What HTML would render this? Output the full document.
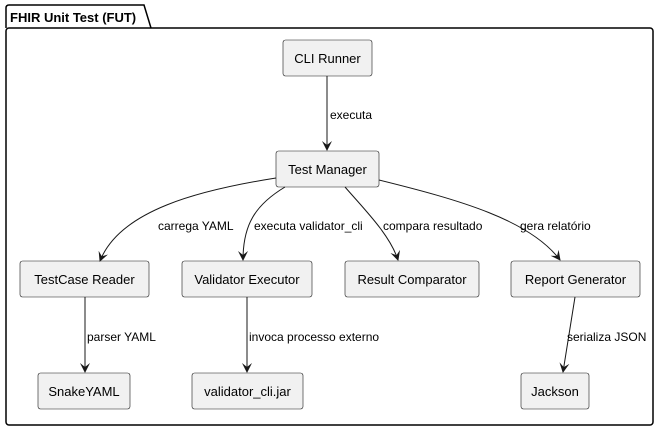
<!DOCTYPE html>
<html><head><meta charset="utf-8"><style>
body{margin:0;background:#fff;width:660px;height:432px;overflow:hidden}
text{font-family:"Liberation Sans",sans-serif;font-size:12px;fill:#000}
.b{fill:#f1f1f1;stroke:#181818;stroke-width:0.6}
.n{font-size:13px}
.e{fill:none;stroke:#181818;stroke-width:1}
</style></head><body>
<svg width="660" height="432" viewBox="0 0 660 432">
<defs><marker id="a" viewBox="0 0 10 10" refX="9" refY="5" markerWidth="10" markerHeight="10" orient="auto" markerUnits="userSpaceOnUse"><path d="M0,0 L10,5 L0,10 L4,5 Z" fill="#181818"/></marker></defs>
<path d="M6,28 L6,8 Q6,5 9,5 L144,5 L151,28" fill="none" stroke="#000" stroke-width="1.5"/>
<rect x="6" y="28" width="647" height="397" rx="3" fill="none" stroke="#000" stroke-width="1.5"/>
<text x="10" y="22" style="font-weight:bold;font-size:13px">FHIR Unit Test (FUT)</text>

<rect class="b" x="283" y="40" width="89" height="36" rx="2.5"/><text class="n" x="327.5" y="63" text-anchor="middle">CLI Runner</text>
<rect class="b" x="276" y="151" width="103" height="36" rx="2.5"/><text class="n" x="327.5" y="174" text-anchor="middle">Test Manager</text>
<rect class="b" x="20" y="261" width="129" height="36" rx="2.5"/><text class="n" x="84.5" y="284" text-anchor="middle">TestCase Reader</text>
<rect class="b" x="182" y="261" width="130" height="36" rx="2.5"/><text class="n" x="247" y="284" text-anchor="middle">Validator Executor</text>
<rect class="b" x="345" y="261" width="134" height="36" rx="2.5"/><text class="n" x="412" y="284" text-anchor="middle">Result Comparator</text>
<rect class="b" x="511" y="261" width="129" height="36" rx="2.5"/><text class="n" x="575.5" y="284" text-anchor="middle">Report Generator</text>
<rect class="b" x="38" y="373" width="92" height="36" rx="2.5"/><text class="n" x="84" y="396" text-anchor="middle">SnakeYAML</text>
<rect class="b" x="192" y="373" width="111" height="36" rx="2.5"/><text class="n" x="247.5" y="396" text-anchor="middle">validator_cli.jar</text>
<rect class="b" x="521" y="373" width="68" height="36" rx="2.5"/><text class="n" x="555" y="396" text-anchor="middle">Jackson</text>

<path class="e" d="M327,76 L327,150" marker-end="url(#a)"/><text x="330" y="119">executa</text>
<path class="e" d="M276,178 C200,190 120,210 100,261" marker-end="url(#a)"/><text x="158" y="230">carrega YAML</text>
<path class="e" d="M285,187 C255,205 243,225 243,260" marker-end="url(#a)"/><text x="254" y="230">executa validator_cli</text>
<path class="e" d="M345,187 C365,210 390,235 398,260" marker-end="url(#a)"/><text x="383" y="230">compara resultado</text>
<path class="e" d="M379,180 C460,200 530,220 560,260" marker-end="url(#a)"/><text x="520" y="230">gera relatório</text>
<path class="e" d="M85,297 L85,372" marker-end="url(#a)"/><text x="87" y="341">parser YAML</text>
<path class="e" d="M247,297 L247,372" marker-end="url(#a)"/><text x="249" y="341">invoca processo externo</text>
<path class="e" d="M575,297 L563,372" marker-end="url(#a)"/><text x="567" y="341">serializa JSON</text>
</svg>
</body></html>
